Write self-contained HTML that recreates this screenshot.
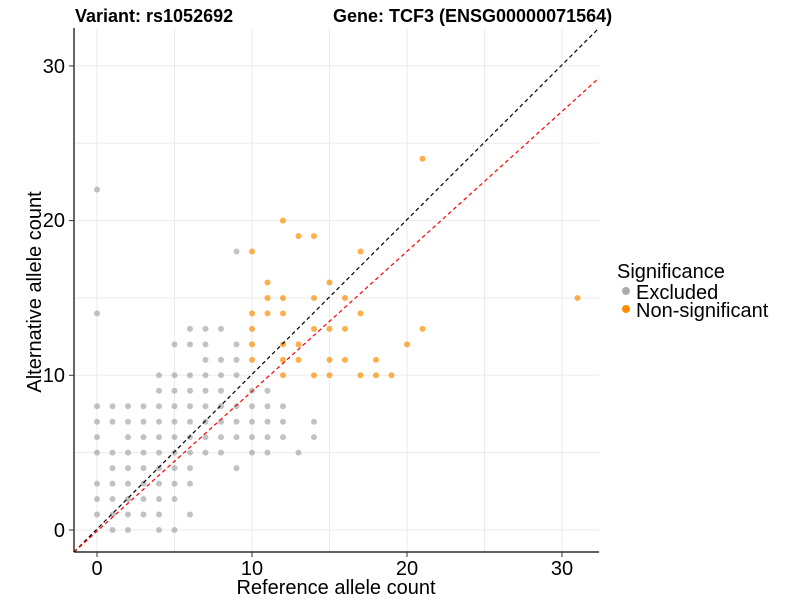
<!DOCTYPE html>
<html><head><meta charset="utf-8"><style>
body{margin:0;background:#fff;}
svg{font-family:"Liberation Sans",Arial,sans-serif;}
</style></head><body>
<svg id="s" width="800" height="600" xmlns="http://www.w3.org/2000/svg">
<rect width="800" height="600" fill="#fff"/>
<g id="grid" stroke="#ebebeb" stroke-width="1"></g>
<g id="pts"></g>
<line x1="74" y1="552" x2="599" y2="28" stroke="#000" stroke-width="1.2" stroke-dasharray="4,3"/>
<line x1="74" y1="552" x2="599" y2="78" stroke="#f00" stroke-width="1.2" stroke-dasharray="4,3"/>
<line x1="74" y1="28" x2="74" y2="552" stroke="#000" stroke-width="1.2"/>
<line x1="74" y1="552" x2="599" y2="552" stroke="#000" stroke-width="1.2"/>
<g id="ticks" stroke="#333" stroke-width="1"></g>
<g font-size="20" fill="#000">
<text x="97" y="575" text-anchor="middle">0</text>
<text x="252" y="575" text-anchor="middle">10</text>
<text x="407" y="575" text-anchor="middle">20</text>
<text x="562" y="575" text-anchor="middle">30</text>
<text x="65" y="537" text-anchor="end">0</text>
<text x="65" y="382" text-anchor="end">10</text>
<text x="65" y="227" text-anchor="end">20</text>
<text x="65" y="73" text-anchor="end">30</text>
<text x="336" y="594" text-anchor="middle">Reference allele count</text>
<text transform="translate(41,292) rotate(-90)" text-anchor="middle">Alternative allele count</text>
<text x="617" y="278">Significance</text>
<text x="636" y="299">Excluded</text>
<text x="636" y="317">Non-significant</text>
</g>
<circle cx="626" cy="291" r="4" fill="#aaa"/>
<circle cx="626" cy="309" r="4" fill="#ff8c00"/>
<g font-size="18" font-weight="bold">
<text x="75" y="22">Variant: rs1052692</text>
<text x="333" y="22">Gene: TCF3 (ENSG00000071564)</text>
</g>
</svg>
<script>
var X=function(v){return 97+v*15.5},Y=function(v){return 530-v*15.47};
var ns="http://www.w3.org/2000/svg",g=document.getElementById('grid'),p=document.getElementById('pts'),t=document.getElementById('ticks');
function L(par,a,b,c,d){var l=document.createElementNS(ns,'line');l.setAttribute('x1',a);l.setAttribute('y1',b);l.setAttribute('x2',c);l.setAttribute('y2',d);par.appendChild(l);}
for(var v=0;v<=30;v+=5){L(g,X(v),28,X(v),552);L(g,74,Y(v),599,Y(v));}
for(var v=0;v<=30;v+=10){L(t,X(v),552,X(v),557);L(t,69,Y(v),74,Y(v));}
var grey={14:[0],22:[0],18:[9],13:[6,7,8],12:[5,6,7,9],11:[7,8,9],10:[4,5,6,7,8,9],9:[4,5,6,7,8,10,11],8:[0,1,2,3,4,5,6,7,8,9,10,11,12],7:[0,1,2,3,4,5,6,7,8,9,10,11,12,14],6:[0,2,3,4,5,6,7,8,9,10,11,12,14],5:[0,1,2,3,4,5,6,7,8,10,11,13],4:[1,2,3,4,5,6,9],3:[0,1,2,3,4,5,6],2:[0,1,2,3,4,5],1:[0,1,2,3,4,6],0:[1,2,4,5]};
var org={24:[21],20:[12],19:[13,14],18:[10,17],16:[11,15],15:[11,12,14,16,31],14:[10,11,12,17],13:[10,14,15,16,21],12:[10,12,13,20],11:[10,12,13,15,16,18],10:[12,14,15,17,18,19]};
function C(o,col,op){for(var y in o)o[y].forEach(function(x){var c=document.createElementNS(ns,'circle');c.setAttribute('cx',X(x));c.setAttribute('cy',Y(+y));c.setAttribute('r',3);c.setAttribute('fill',col);c.setAttribute('fill-opacity',op);p.appendChild(c);});}
C(grey,'#999',0.6);C(org,'#ff8c00',0.7);
</script>
</body></html>
